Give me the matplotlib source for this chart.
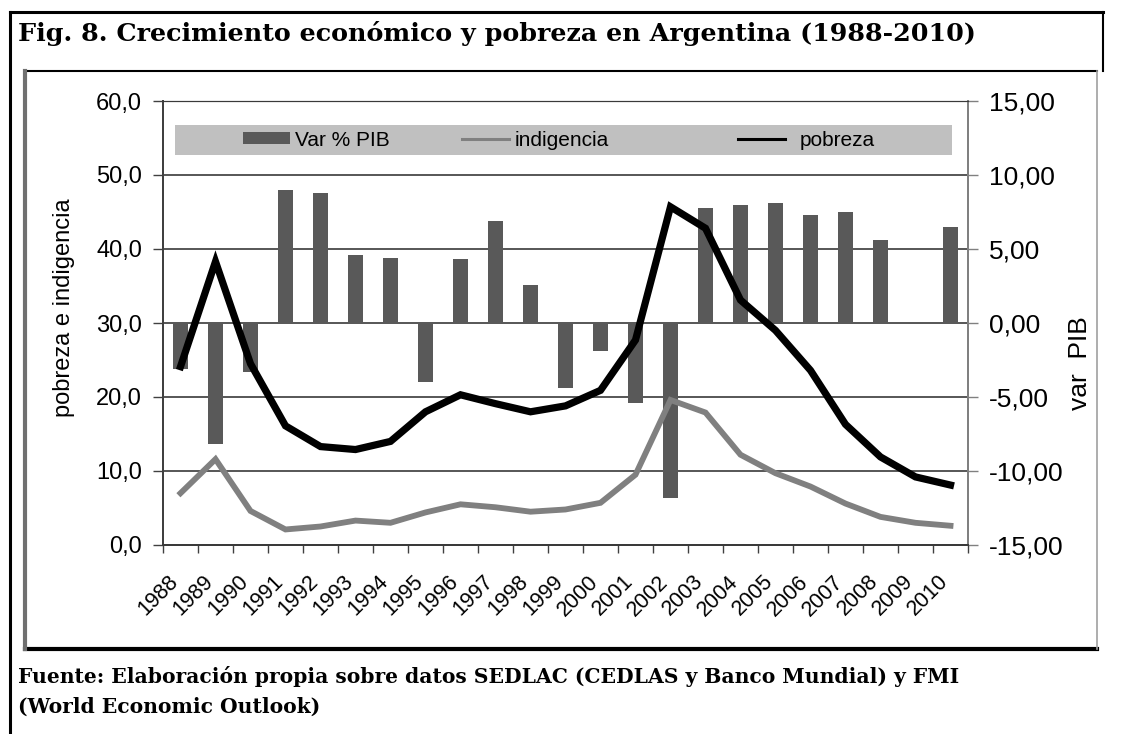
import matplotlib
matplotlib.use("Agg")
import matplotlib.pyplot as plt
import matplotlib.transforms as mtransforms
import numpy as np
from matplotlib.patches import Rectangle
from matplotlib.lines import Line2D

# datos
years = [str(y) for y in range(1988, 2011)]
pib = [-3.1, -8.2, -3.3, 9.0, 8.8, 4.6, 4.4, -4.0, 4.3, 6.9, 2.6, -4.4, -1.9,
       -5.4, -11.8, 7.8, 8.0, 8.1, 7.3, 7.5, 5.6, -0.1, 6.5]
pobreza = [24.1, 38.3, 24.5, 16.1, 13.3, 12.9, 14.0, 18.0, 20.3, 19.1, 18.0, 18.8,
           20.9, 27.7, 45.7, 42.8, 33.1, 29.0, 23.6, 16.3, 11.9, 9.2, 8.1]
indigencia = [7.0, 11.6, 4.6, 2.1, 2.5, 3.3, 3.0, 4.4, 5.5, 5.1, 4.5, 4.8,
              5.7, 9.5, 19.6, 17.9, 12.2, 9.7, 7.9, 5.6, 3.8, 3.0, 2.6]
left_ticks = [0, 10, 20, 30, 40, 50, 60]
right_ticks = [-15, -10, -5, 0, 5, 10, 15]

plt.rcParams['font.family'] = ['Liberation Sans', 'DejaVu Sans']

fig = plt.figure(figsize=(11.34, 7.34), dpi=100)
ax = fig.add_axes([163/1134, 1-545/734, 805/1134, 444/734])
ax2 = ax.twinx()

x = np.arange(len(years))

# barras en eje derecho
bars = ax2.bar(x, pib, width=0.41, color='#595959', zorder=2, label='Var % PIB')
ax2.set_ylim(-15, 15)
ax2.set_yticks(right_ticks)
ax2.set_yticklabels([('%.2f' % v).replace('.', ',') for v in right_ticks])
ax2.yaxis.grid(True, color='#3a3a3a', lw=1.2, zorder=0)
ax2.set_axisbelow(True)
ax2.tick_params(axis='y', direction='out', length=7, width=1, color='#808080',
                labelsize=19, pad=8)
ax2.set_ylabel('var  PIB', fontsize=19)
ax2.yaxis.set_label_coords(1.124, 0.41)

# lineas en eje izquierdo, delante de las barras
ax.set_zorder(ax2.get_zorder() + 1)
ax.patch.set_visible(False)
l1, = ax.plot(x, indigencia, color='#808080', lw=4.2, label='indigencia',
              solid_joinstyle='miter')
l2, = ax.plot(x, pobreza, color='black', lw=5.2, label='pobreza',
              solid_joinstyle='miter')
ax.set_ylim(0, 60)
ax.set_yticks(left_ticks)
ax.set_yticklabels([('%.1f' % v).replace('.', ',') for v in left_ticks])
ax.tick_params(axis='y', direction='out', length=7, width=1, color='#404040',
               labelsize=17, pad=8)
ax.set_ylabel('pobreza e indigencia', fontsize=17)
ax.yaxis.set_label_coords(-0.109, 0.534)

ax.set_xlim(-0.5, len(years) - 0.5)
ax.set_xticks(x)
ax.set_xticklabels(years, rotation=45, ha='right', va='center',
                   rotation_mode='anchor', fontsize=15.5)
ax.set_xticks(np.arange(-0.5, len(years)), minor=True)
ax.tick_params(axis='x', which='major', length=0, pad=22)
ax.tick_params(axis='x', which='minor', direction='out', length=6, width=1, color='#404040')
shift = mtransforms.ScaledTranslation(-5/100, -3/100, fig.dpi_scale_trans)
for lab in ax.get_xticklabels():
    lab.set_transform(lab.get_transform() + shift)

for a in (ax, ax2):
    a.spines['top'].set_color('#3a3a3a')
    a.spines['bottom'].set_color('#3a3a3a')
    a.spines['bottom'].set_linewidth(1.4)
    a.spines['left'].set_color('#404040')
    a.spines['left'].set_linewidth(1.4)
    a.spines['right'].set_color('#808080')
    a.spines['right'].set_linewidth(1.4)

# leyenda sobre caja gris, una entrada por posicion
ax.add_patch(Rectangle((0.015, 0.878), 0.965, 0.068, transform=ax.transAxes,
                       facecolor='#c0c0c0', edgecolor='none', zorder=4))
entries = [(bars, 'Var % PIB', 0.0994, 0.25),
           (l1, 'indigencia', 0.3714, 0.25),
           (l2, 'pobreza', 0.7143, 0.7)]
for i, (h, lab, x0, tp) in enumerate(entries):
    leg = ax.legend([h], [lab], loc='center left', bbox_to_anchor=(x0, 0.912),
                    frameon=False, fontsize=15, handlelength=2.26, handleheight=0.55,
                    handletextpad=tp, borderpad=0, borderaxespad=0)
    for lh in leg.legend_handles:
        if isinstance(lh, Line2D):
            lh.set_linewidth(2.2)
    leg.set_zorder(5)
    if i < len(entries) - 1:
        ax.add_artist(leg)

# marcos
fig.add_artist(Line2D([10/1134, 10/1134], [0, 1-12/734], color='black', lw=2.2))
fig.add_artist(Line2D([10/1134, 1103/1134], [1-12/734, 1-12/734], color='black', lw=2.2))
fig.add_artist(Line2D([1103/1134, 1103/1134], [1-12/734, 1-71/734], color='black', lw=1.5))
fig.add_artist(Line2D([25/1134, 1097/1134], [1-71/734, 1-71/734], color='black', lw=1.5))
fig.add_artist(Line2D([25/1134, 1097/1134], [1-649/734, 1-649/734], color='black', lw=3))
fig.add_artist(Line2D([25/1134, 25/1134], [1-71/734, 1-649/734], color='#707070', lw=3))
fig.add_artist(Line2D([1097/1134, 1097/1134], [1-71/734, 1-649/734], color='#a0a0a0', lw=1.2))

fig.text(18/1134, 1-21/734, 'Fig. 8. Crecimiento económico y pobreza en Argentina (1988-2010)',
         fontsize=18.3, fontweight='bold', family='DejaVu Serif', va='top', ha='left')
fig.text(18/1134, 1-666/734,
         'Fuente: Elaboración propia sobre datos SEDLAC (CEDLAS y Banco Mundial) y FMI\n'
         '(World Economic Outlook)',
         fontsize=14.6, fontweight='bold', family='DejaVu Serif', va='top', ha='left',
         linespacing=1.6)

fig.savefig('out.png', dpi=100)
